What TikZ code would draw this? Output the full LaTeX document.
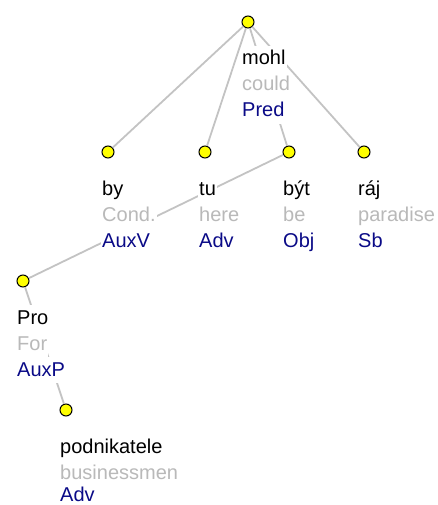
\documentclass[tikz,border=0pt]{standalone}
\usepackage{fontspec}
\setmainfont{Liberation Sans}
\definecolor{glossgray}{RGB}{185,185,185}
\definecolor{afunblue}{RGB}{10,10,135}
\definecolor{edgegray}{RGB}{195,195,195}
\definecolor{dotyellow}{RGB}{255,255,0}
\tikzset{
  dot/.style={circle, draw=black, fill=dotyellow, line width=1pt, minimum size=12pt, inner sep=0pt},
  edge/.style={draw=edgegray, line width=1.8pt},
  row/.style={anchor=base west, fill=white, inner xsep=1pt, inner ysep=0pt, text height=19pt, text depth=7pt, font=\fontsize{20pt}{26pt}\selectfont},
  form/.style={row, text=black},
  gloss/.style={row, text=glossgray},
  afun/.style={row, text=afunblue},
}
\begin{document}
\begin{tikzpicture}[x=1pt, y=-1pt]
\useasboundingbox (0,0) rectangle (437,505);
% tree nodes
\node[dot] (mohl) at (248,22) {};
\node[dot] (by) at (108,152) {};
\node[dot] (tu) at (205,152) {};
\node[dot] (byt) at (289,152) {};
\node[dot] (raj) at (364,152) {};
\node[dot] (pro) at (23,281) {};
\node[dot] (podn) at (66,410) {};
% edges
\draw[edge] (mohl) -- (by);
\draw[edge] (mohl) -- (tu);
\draw[edge] (mohl) -- (byt);
\draw[edge] (mohl) -- (raj);
\draw[edge] (byt) -- (pro);
\draw[edge] (pro) -- (podn);
% labels
\node[form]  (mohlA) at (241,65) {mohl};
\node[gloss] (mohlB) at (241,91) {could};
\node[afun]  (mohlC) at (241,117) {Pred};
\node[form]  (byA) at (101,195) {by};
\node[gloss] (byB) at (101,221) {Cond.};
\node[afun]  (byC) at (101,247) {AuxV};
\node[form]  (tuA) at (198,195) {tu};
\node[gloss] (tuB) at (198,221) {here};
\node[afun]  (tuC) at (198,247) {Adv};
\node[form]  (bytA) at (282,195) {být};
\node[gloss] (bytB) at (282,221) {be};
\node[afun]  (bytC) at (282,247) {Obj};
\node[form]  (rajA) at (357,195) {ráj};
\node[gloss] (rajB) at (357,221) {paradise};
\node[afun]  (rajC) at (357,247) {Sb};
\node[form]  (proA) at (16,324) {Pro};
\node[gloss] (proB) at (16,350) {For};
\node[afun]  (proC) at (16,376) {AuxP};
\node[form]  (podnA) at (59,453) {podnikatele};
\node[gloss] (podnB) at (59,479) {businessmen};
\node[afun, text depth=0pt, text height=16pt] (podnC) at (59,501) {Adv};
\end{tikzpicture}
\end{document}
